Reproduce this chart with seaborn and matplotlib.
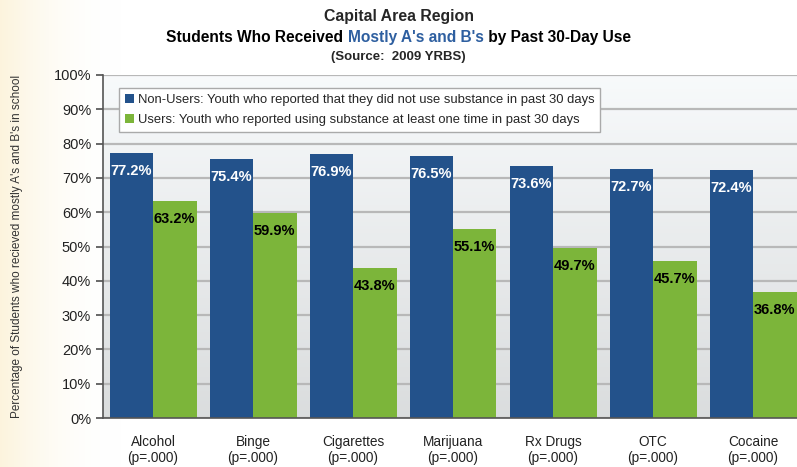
import pandas as pd
import seaborn as sns
import matplotlib.pyplot as plt
import numpy as np

# Chart data
categories = ["Alcohol", "Binge", "Cigarettes", "Marijuana", "Rx Drugs", "OTC", "Cocaine"]
p_values = ["(p=.000)"] * 7
non_users = [77.2, 75.4, 76.9, 76.5, 73.6, 72.7, 72.4]
users = [63.2, 59.9, 43.8, 55.1, 49.7, 45.7, 36.8]
series_names = ["Non-Users: Youth who reported that they did not use substance in past 30 days",
                "Users: Youth who reported using substance at least one time in past 30 days"]

df = pd.DataFrame({"Category": categories * 2,
                   "Pct": non_users + users,
                   "Group": [series_names[0]] * 7 + [series_names[1]] * 7})

sns.set_theme(style="white")
plt.rcParams['font.family'] = ['Liberation Sans', 'DejaVu Sans']

blue = "#23528b"
green = "#7cb53a"

fig = plt.figure(figsize=(7.97, 4.67), dpi=100)

# soft cream background fading in from the left edge
bg = fig.add_axes([0, 0, 1, 1], zorder=-10)
xx = np.linspace(0, 1, 400)
fade = np.clip(1 - xx / 0.15, 0, 1) ** 2 * 0.55
cream = np.array([0.98, 0.92, 0.76])
img = 1 - (1 - cream)[None, :] * fade[:, None]
bg.imshow(img[None, :, :], aspect="auto", extent=[0, 1, 0, 1])
bg.axis("off")

ax = fig.add_axes([103 / 797, 1 - 418 / 467, 700 / 797, 343 / 467])

sns.barplot(data=df, x="Category", y="Pct", hue="Group", palette=[blue, green],
            width=0.87, saturation=1, linewidth=0, ax=ax, zorder=3)

ax.set_ylim(0, 100)
ax.set_xlim(-0.5, 6.5)

# plot-area gradient
shade = np.linspace(0.87, 0.985, 100)[:, None]
ax.imshow(np.dstack([shade * 0.985, shade * 0.995, shade]), aspect="auto",
          extent=[-0.5, 6.5, 0, 100], origin="lower", zorder=0)

ax.set_yticks(range(0, 101, 10))
ax.set_yticklabels([f"{v}%" for v in range(0, 101, 10)], fontsize=10.5, color="#222222")
ax.set_xticks(range(7))
ax.set_xticklabels([f"{c}\n{p}" for c, p in zip(categories, p_values)], fontsize=9.8,
                   color="#222222")
ax.set_xticks(np.arange(-0.5, 7, 1), minor=True)
ax.tick_params(axis="x", which="major", length=0, pad=12)
ax.tick_params(axis="x", which="minor", length=5, color="#555555", direction="out")
ax.tick_params(axis="y", length=5, color="#555555", direction="out", left=True)
ax.grid(axis="y", color="#b8b8b8", linewidth=1.6, zorder=1)
ax.set_axisbelow(False)
for s in ["top", "right"]:
    ax.spines[s].set_visible(False)
for s in ["left", "bottom"]:
    ax.spines[s].set_color("#555555")
    ax.spines[s].set_linewidth(1.2)
    ax.spines[s].set_zorder(4)
ax.set_xlabel("")
ax.set_ylabel("Percentage of Students who recieved mostly A's and B's in school",
              fontsize=8.5, color="#333333", labelpad=22)

# Value labels inside bars
for cont, col in zip(ax.containers, ["white", "black"]):
    for bar in cont:
        h = bar.get_height()
        ax.annotate(f"{h:.1f}%", (bar.get_x() + bar.get_width() / 2, h),
                    xytext=(0, -13), textcoords="offset points", ha="center", va="center",
                    fontsize=10.5, fontweight="bold", color=col, zorder=5)

leg = ax.legend(loc="upper left", bbox_to_anchor=(0.013, 0.982), fontsize=9.4,
                frameon=True, fancybox=False, edgecolor="#aaaaaa", framealpha=1,
                handlelength=0.7, handleheight=0.7, handletextpad=0.3,
                labelspacing=0.6, borderpad=0.45)
leg.get_frame().set_linewidth(1.0)
leg.set_zorder(6)

# Title with a coloured fragment
fig.text(0.5, 1 - 16 / 467, "Capital Area Region", ha="center", va="center",
         fontsize=11.4, fontweight="bold")
parts = [("Students Who Received ", "black"), ("Mostly A's and B's", "#2e5fa0"),
         (" by Past 30-Day Use", "black")]
renderer = fig.canvas.get_renderer()
texts = [fig.text(0, 1 - 42 / 467, t, ha="left", va="baseline", fontsize=11.2,
                  fontweight="bold", color=c) for t, c in parts]
widths = [t.get_window_extent(renderer).width for t in texts]
x = (fig.bbox.width - sum(widths)) / 2
for t, w in zip(texts, widths):
    t.set_x(x / fig.bbox.width)
    x += w
fig.text(0.5, 1 - 57 / 467, "(Source:  2009 YRBS)", ha="center", va="center",
         fontsize=9.5, fontweight="bold")

fig.savefig("out.png", dpi=100)
